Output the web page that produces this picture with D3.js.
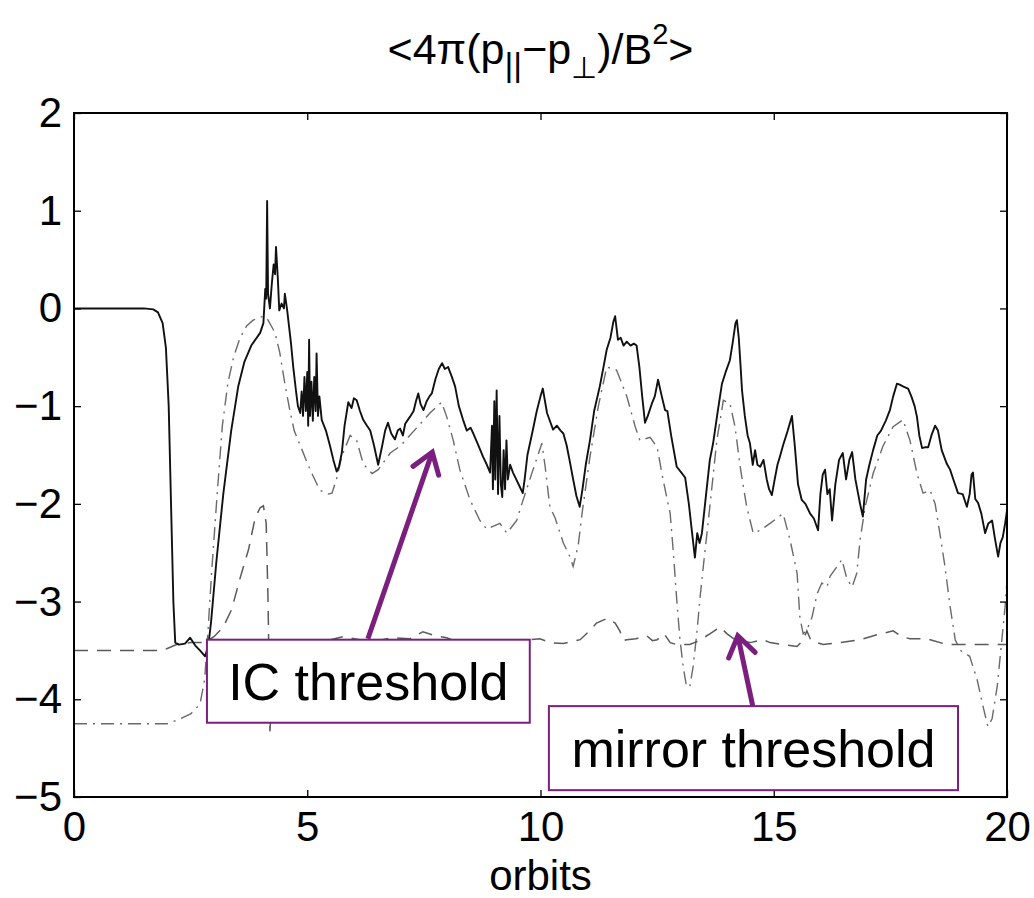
<!DOCTYPE html>
<html>
<head>
<meta charset="utf-8">
<script src="https://cdn.jsdelivr.net/npm/d3@7"></script>
<style>
  body { margin: 0; background: #fff; }
  svg text { font-family: "Liberation Sans", Arial, Helvetica, sans-serif; fill: #000; }
</style>
</head>
<body>
<svg id="chart" width="1034" height="898"></svg>
<script>
(function () {
  "use strict";

  // [orbits, value]
  const anisotropy = [
    [0,0],[1.5,0],[1.7,-0.01],[1.8,-0.04],[1.9,-0.15],[1.97,-0.4],[2.03,-1.0],[2.08,-2.0],[2.13,-3.0],[2.17,-3.42],
    [2.25,-3.44],[2.38,-3.43],[2.49,-3.37],[2.6,-3.45],[2.7,-3.5],[2.81,-3.56],[2.88,-3.45],[2.94,-3.2],[3.05,-2.6],[3.2,-1.9],
    [3.37,-1.25],[3.52,-0.8],[3.65,-0.55],[3.8,-0.38],[3.99,-0.25],[4.06,-0.15],[4.1,0.2],[4.12,0.1],[4.14,1.1],[4.16,0.15],
    [4.2,0.0],[4.24,0.25],[4.28,0.45],[4.31,0.35],[4.33,0.63],[4.37,0.3],[4.4,-0.02],[4.45,0.05],[4.5,0.0],[4.52,0.15],
    [4.55,0.05],[4.57,-0.02],[4.65,-0.35],[4.7,-0.6],[4.76,-0.85],[4.8,-1.0],[4.85,-1.07],[4.88,-0.85],[4.91,-1.1],[4.94,-0.7],
    [4.97,-1.05],[5.0,-0.65],[5.02,-1.2],[5.04,-0.32],[5.06,-1.1],[5.09,-0.75],[5.12,-1.15],[5.15,-0.7],[5.18,-1.05],[5.2,-0.46],
    [5.23,-1.1],[5.26,-0.9],[5.31,-1.14],[5.4,-1.25],[5.49,-1.41],[5.56,-1.55],[5.63,-1.67],[5.68,-1.62],[5.74,-1.48],[5.8,-1.2],
    [5.88,-0.96],[5.95,-1.02],[6.0,-0.92],[6.06,-0.94],[6.13,-1.05],[6.2,-1.14],[6.28,-1.2],[6.35,-1.25],[6.43,-1.4],[6.52,-1.6],
    [6.6,-1.42],[6.67,-1.25],[6.73,-1.17],[6.8,-1.28],[6.88,-1.34],[6.94,-1.25],[6.99,-1.23],[7.05,-1.3],[7.1,-1.18],[7.2,-1.11],
    [7.28,-1.05],[7.33,-0.95],[7.38,-0.87],[7.43,-0.98],[7.49,-1.04],[7.56,-0.95],[7.62,-0.9],[7.67,-0.87],[7.75,-0.72],[7.82,-0.62],
    [7.89,-0.56],[7.95,-0.62],[8.02,-0.6],[8.1,-0.7],[8.17,-0.8],[8.25,-1.0],[8.34,-1.14],[8.42,-1.25],[8.5,-1.22],[8.56,-1.28],
    [8.65,-1.38],[8.77,-1.52],[8.85,-1.6],[8.92,-1.68],[8.96,-1.2],[8.98,-1.85],[9.01,-0.95],[9.03,-1.75],[9.06,-0.84],[9.09,-1.9],
    [9.12,-1.1],[9.15,-1.8],[9.18,-1.93],[9.21,-1.45],[9.24,-1.85],[9.27,-1.35],[9.3,-1.75],[9.35,-1.6],[9.41,-1.68],[9.48,-1.75],
    [9.55,-1.82],[9.62,-1.89],[9.66,-1.75],[9.72,-1.5],[9.82,-1.28],[9.92,-1.05],[10.0,-0.9],[10.05,-0.82],[10.14,-1.07],[10.2,-1.15],
    [10.27,-1.24],[10.35,-1.2],[10.43,-1.25],[10.49,-1.28],[10.56,-1.4],[10.63,-1.57],[10.7,-1.75],[10.77,-1.92],[10.84,-2.03],[10.9,-1.85],
    [10.97,-1.6],[11.06,-1.35],[11.15,-1.05],[11.27,-0.8],[11.35,-0.6],[11.42,-0.42],[11.5,-0.3],[11.56,-0.14],[11.6,-0.08],[11.66,-0.32],
    [11.72,-0.3],[11.78,-0.38],[11.85,-0.34],[11.93,-0.38],[12.0,-0.36],[12.06,-0.38],[12.12,-0.6],[12.18,-0.9],[12.24,-1.17],[12.3,-1.1],
    [12.39,-0.97],[12.45,-0.9],[12.52,-0.73],[12.6,-0.9],[12.67,-1.04],[12.72,-1.05],[12.8,-1.3],[12.92,-1.62],[13.02,-1.68],[13.1,-1.73],
    [13.18,-2.0],[13.25,-2.3],[13.31,-2.55],[13.36,-2.3],[13.41,-2.4],[13.46,-2.3],[13.55,-1.9],[13.63,-1.55],[13.7,-1.38],[13.8,-1.05],
    [13.89,-0.77],[13.97,-0.65],[14.06,-0.53],[14.12,-0.35],[14.18,-0.15],[14.21,-0.12],[14.25,-0.3],[14.29,-0.6],[14.32,-0.84],[14.38,-1.1],
    [14.44,-1.3],[14.49,-1.38],[14.55,-1.6],[14.6,-1.45],[14.65,-1.6],[14.71,-1.62],[14.78,-1.55],[14.85,-1.75],[14.9,-1.85],[14.96,-1.91],
    [15.02,-1.75],[15.08,-1.6],[15.13,-1.52],[15.2,-1.4],[15.3,-1.25],[15.39,-1.1],[15.45,-1.4],[15.52,-1.8],[15.6,-1.96],[15.68,-2.0],
    [15.78,-2.1],[15.86,-2.15],[15.95,-2.27],[16.0,-1.9],[16.05,-1.7],[16.1,-1.65],[16.15,-1.9],[16.2,-1.85],[16.25,-2.17],[16.32,-1.8],
    [16.4,-1.55],[16.48,-1.48],[16.55,-1.75],[16.62,-1.55],[16.68,-1.47],[16.75,-1.75],[16.85,-2.0],[16.91,-2.13],[16.98,-1.75],[17.05,-1.6],
    [17.13,-1.45],[17.22,-1.3],[17.3,-1.25],[17.34,-1.21],[17.4,-1.15],[17.49,-1.04],[17.56,-0.9],[17.64,-0.77],[17.7,-0.78],[17.78,-0.8],
    [17.88,-0.82],[17.95,-0.9],[18.02,-1.0],[18.07,-1.11],[18.12,-1.3],[18.18,-1.43],[18.25,-1.42],[18.31,-1.42],[18.38,-1.3],[18.46,-1.2],
    [18.52,-1.25],[18.6,-1.45],[18.71,-1.59],[18.78,-1.65],[18.85,-1.75],[18.95,-1.89],[19.05,-1.9],[19.14,-2.03],[19.2,-1.9],[19.24,-1.7],
    [19.27,-1.68],[19.32,-1.95],[19.38,-1.99],[19.45,-2.1],[19.53,-2.3],[19.6,-2.2],[19.68,-2.17],[19.74,-2.35],[19.81,-2.54],[19.86,-2.4],
    [19.91,-2.34],[19.96,-2.2],[20,-2.07]
  ]

  // ion-cyclotron threshold (dash-dot)
  const icThreshold = [
    [0,-4.25],[2.0,-4.25],[2.23,-4.21],[2.5,-4.15],[2.7,-4.05],[2.8,-3.8],[2.87,-3.32],[2.95,-2.7],[3.06,-1.96],[3.18,-1.2],
    [3.3,-0.76],[3.42,-0.5],[3.56,-0.3],[3.7,-0.18],[3.84,-0.12],[3.99,-0.09],[4.08,-0.08],[4.16,-0.12],[4.31,-0.25],[4.41,-0.45],
    [4.52,-0.77],[4.63,-1.05],[4.72,-1.25],[4.89,-1.45],[5.06,-1.65],[5.27,-1.86],[5.45,-1.9],[5.53,-1.89],[5.62,-1.76],[5.75,-1.5],
    [5.92,-1.3],[6.06,-1.35],[6.2,-1.59],[6.39,-1.69],[6.52,-1.65],[6.78,-1.48],[6.99,-1.41],[7.35,-1.22],[7.63,-1.07],[7.88,-0.96],
    [7.99,-1.11],[8.13,-1.35],[8.27,-1.65],[8.49,-1.96],[8.7,-2.17],[8.85,-2.26],[8.98,-2.23],[9.13,-2.2],[9.28,-2.3],[9.49,-2.17],
    [9.6,-2.0],[9.84,-1.65],[10.03,-1.38],[10.1,-1.62],[10.2,-2.03],[10.31,-2.14],[10.49,-2.4],[10.63,-2.54],[10.7,-2.64],[10.81,-2.42],
    [10.89,-2.1],[11.06,-1.52],[11.24,-1.0],[11.42,-0.6],[11.63,-0.63],[11.85,-0.9],[12.03,-1.21],[12.13,-1.35],[12.35,-1.32],[12.5,-1.42],
    [12.63,-1.76],[12.78,-2.1],[12.85,-2.51],[12.92,-2.98],[12.99,-3.39],[13.06,-3.67],[13.13,-3.87],[13.2,-3.87],[13.27,-3.67],[13.35,-3.33],
    [13.42,-2.96],[13.49,-2.64],[13.63,-2.03],[13.78,-1.35],[13.92,-0.94],[14.06,-0.97],[14.17,-1.21],[14.28,-1.62],[14.42,-2.03],[14.56,-2.3],
    [14.71,-2.27],[14.92,-2.2],[15.2,-2.1],[15.35,-2.37],[15.5,-2.71],[15.56,-3.16],[15.63,-3.33],[15.71,-3.29],[15.82,-3.16],[15.93,-2.92],
    [16.03,-2.81],[16.14,-2.85],[16.21,-2.74],[16.36,-2.64],[16.46,-2.57],[16.57,-2.77],[16.68,-2.85],[16.78,-2.71],[16.85,-2.37],[16.96,-2.03],
    [17.13,-1.69],[17.34,-1.41],[17.56,-1.21],[17.77,-1.14],[17.92,-1.35],[18.07,-1.69],[18.2,-1.89],[18.35,-1.86],[18.46,-2.0],[18.56,-2.3],
    [18.67,-2.64],[18.78,-3.05],[18.89,-3.39],[19.0,-3.5],[19.2,-3.56],[19.36,-3.8],[19.49,-4.08],[19.59,-4.28],[19.68,-4.2],[19.79,-3.87],
    [19.89,-3.39],[19.96,-3.05],[20,-2.78]
  ]

  // mirror threshold (dashed)
  const mirrorThreshold = [
    [0,-3.5],[1.9,-3.5],[2.05,-3.47],[2.2,-3.44],[2.5,-3.42],[2.8,-3.42],[3.0,-3.36],[3.2,-3.26],[3.38,-3.08],[3.56,-2.76],
    [3.74,-2.47],[3.88,-2.15],[3.99,-2.04],[4.06,-2.02],[4.12,-2.2],[4.16,-3.0],[4.2,-4.33],[4.25,-3.9],[4.32,-3.6],[4.42,-3.53],
    [4.56,-3.5],[4.7,-3.45],[5.0,-3.41],[5.3,-3.43],[5.5,-3.39],[5.77,-3.36],[6.13,-3.39],[6.5,-3.4],[6.84,-3.37],[7.2,-3.38],
    [7.48,-3.31],[7.75,-3.35],[7.99,-3.37],[8.25,-3.42],[8.55,-3.43],[8.9,-3.42],[9.28,-3.41],[9.6,-3.4],[9.99,-3.38],[10.2,-3.42],
    [10.49,-3.43],[10.85,-3.39],[11.05,-3.3],[11.2,-3.22],[11.44,-3.17],[11.6,-3.22],[11.7,-3.3],[11.78,-3.4],[11.85,-3.39],[12.05,-3.38],
    [12.28,-3.35],[12.4,-3.4],[12.5,-3.39],[12.65,-3.33],[12.78,-3.42],[12.92,-3.44],[13.2,-3.44],[13.4,-3.4],[13.63,-3.33],[13.85,-3.26],
    [14.0,-3.33],[14.2,-3.4],[14.5,-3.42],[14.77,-3.39],[14.92,-3.42],[15.2,-3.44],[15.5,-3.46],[15.62,-3.4],[15.71,-3.3],[15.8,-3.4],
    [16.06,-3.44],[16.42,-3.42],[16.85,-3.39],[17.21,-3.34],[17.56,-3.3],[17.75,-3.36],[17.92,-3.38],[18.28,-3.38],[18.71,-3.44],[19.06,-3.44],
    [19.42,-3.44],[19.85,-3.44],[20,-3.44]
  ]

  const xTicks = [0, 5, 10, 15, 20]
  const yTicks = [-5, -4, -3, -2, -1, 0, 1, 2]

  // callouts, in data units
  const callouts = [
    { label: 'IC threshold', box: [2.85, 9.77, -3.39, -4.24], from: [6.3, -3.38], to: [7.68, -1.47] },
    { label: 'mirror threshold', box: [10.18, 18.95, -4.07, -4.93], from: [14.55, -4.07], to: [14.23, -3.35] }
  ]

  const W = 1034, H = 898
  const margin = { top: 113, right: 27, bottom: 101, left: 74 }
  const purple = '#7b1f7e'

  const svg = d3.select('#chart')
  const x = d3.scaleLinear().domain([0, 20]).range([margin.left, W - margin.right])
  const y = d3.scaleLinear().domain([-5, 2]).range([H - margin.bottom, margin.top])

  svg.append('defs').append('clipPath').attr('id', 'plot-clip')
    .append('rect')
    .attr('x', x(0)).attr('y', y(2))
    .attr('width', x(20) - x(0)).attr('height', y(-5) - y(2))

  const line = d3.line().x(d => x(d[0])).y(d => y(d[1]))
  const plot = svg.append('g').attr('clip-path', 'url(#plot-clip)')

  plot.append('path').datum(icThreshold)
    .attr('d', line).attr('fill', 'none')
    .attr('stroke', '#6a6a6a').attr('stroke-width', 1.4)
    .attr('stroke-dasharray', '13,6,2,6')

  plot.append('path').datum(mirrorThreshold)
    .attr('d', line).attr('fill', 'none')
    .attr('stroke', '#5a5a5a').attr('stroke-width', 1.5)
    .attr('stroke-dasharray', '14,9')

  plot.append('path').datum(anisotropy)
    .attr('d', line).attr('fill', 'none')
    .attr('stroke', '#111').attr('stroke-width', 1.9)
    .attr('stroke-linejoin', 'round')

  // axes: inward ticks on all four sides
  const tickLen = 7
  const fmt = d3.format('')
  const bottom = svg.append('g').attr('transform', `translate(0,${y(-5)})`)
    .call(d3.axisBottom(x).tickValues(xTicks).tickSize(-tickLen).tickPadding(14).tickFormat(fmt))
  const top = svg.append('g').attr('transform', `translate(0,${y(2)})`)
    .call(d3.axisTop(x).tickValues(xTicks).tickSize(-tickLen).tickFormat(''))
  const left = svg.append('g').attr('transform', `translate(${x(0)},0)`)
    .call(d3.axisLeft(y).tickValues(yTicks).tickSize(-tickLen).tickPadding(12).tickFormat(fmt))
  const right = svg.append('g').attr('transform', `translate(${x(20)},0)`)
    .call(d3.axisRight(y).tickValues(yTicks).tickSize(-tickLen).tickFormat(''))

  ;[bottom, top, left, right].forEach(function (g) {
    g.select('.domain').remove()
    g.selectAll('.tick line').attr('stroke', '#000').attr('stroke-width', 1.3)
    g.selectAll('text').attr('font-size', 42).attr('font-family', null).attr('fill', '#000')
  })

  svg.append('rect')
    .attr('x', x(0)).attr('y', y(2))
    .attr('width', x(20) - x(0)).attr('height', y(-5) - y(2))
    .attr('fill', 'none').attr('stroke', '#000').attr('stroke-width', 2)

  svg.append('text')
    .attr('x', x(10)).attr('y', H - 8)
    .attr('text-anchor', 'middle').attr('font-size', 42)
    .text('orbits')

  // title with sub/superscripts
  const title = svg.append('text')
    .attr('x', x(10)).attr('y', 64)
    .attr('text-anchor', 'middle').attr('font-size', 43)
  title.append('tspan').text('<4π(p')
  title.append('tspan').attr('font-size', 34).attr('dy', 12).text('||')
  title.append('tspan').attr('dy', -12).text('−p')
  title.append('tspan').attr('font-size', 30).attr('dy', 14).text('⊥')
  title.append('tspan').attr('dy', -14).text(')/B')
  title.append('tspan').attr('font-size', 29).attr('dy', -20).text('2')
  title.append('tspan').attr('dy', 20).text('>')

  // callout arrows and boxes
  function arrowHead(p0, p1, len, spread) {
    const a = Math.atan2(p1[1] - p0[1], p1[0] - p0[0])
    const l = [p1[0] - len * Math.cos(a - spread), p1[1] - len * Math.sin(a - spread)]
    const r = [p1[0] - len * Math.cos(a + spread), p1[1] - len * Math.sin(a + spread)]
    return [l, p1, r]
  }

  const notes = svg.append('g')
  callouts.forEach(function (c) {
    const p0 = [x(c.from[0]), y(c.from[1])]
    const p1 = [x(c.to[0]), y(c.to[1])]
    notes.append('line')
      .attr('x1', p0[0]).attr('y1', p0[1]).attr('x2', p1[0]).attr('y2', p1[1])
      .attr('stroke', purple).attr('stroke-width', 5)
    notes.append('path')
      .attr('d', d3.line()(arrowHead(p0, p1, 24, 0.6)))
      .attr('fill', 'none').attr('stroke', purple).attr('stroke-width', 5)
      .attr('stroke-linecap', 'round').attr('stroke-linejoin', 'miter')

    const bx = x(c.box[0]), bw = x(c.box[1]) - bx
    const by = y(c.box[2]), bh = y(c.box[3]) - by
    notes.append('rect')
      .attr('x', bx).attr('y', by).attr('width', bw).attr('height', bh)
      .attr('fill', '#fff').attr('stroke', purple).attr('stroke-width', 2)
    notes.append('text')
      .attr('x', bx + bw / 2).attr('y', by + bh / 2 + 19)
      .attr('text-anchor', 'middle').attr('font-size', 52)
      .attr('font-family', 'Liberation Sans, Arial, sans-serif')
      .text(c.label)
  })
}());
</script>
</body>
</html>
